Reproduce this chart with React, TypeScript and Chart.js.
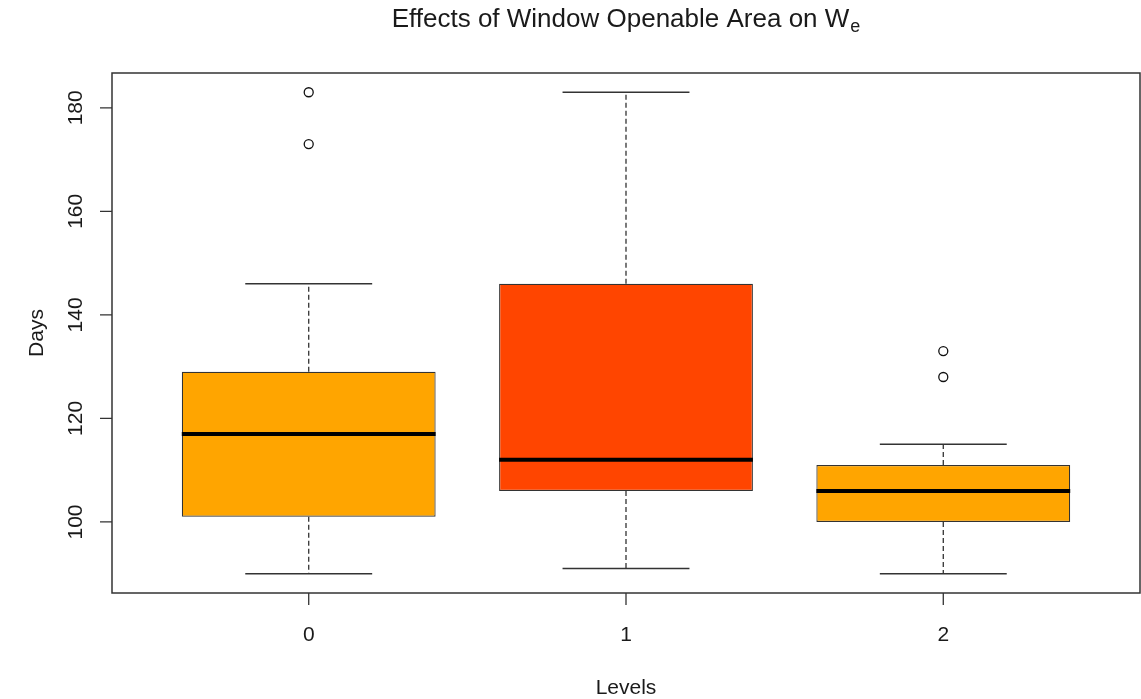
import React, { useEffect, useRef } from "react";
import { Chart, registerables } from "chart.js";

Chart.register(...registerables);

// ---- data ----
const LEVELS = [0, 1, 2];
const LEVEL_LABELS = ["0", "1", "2"];
const WHISKER_LOW = [90, 91, 90];
const Q1 = [101, 106, 100];
const MEDIAN = [117, 112, 106];
const Q3 = [129, 146, 111];
const WHISKER_HIGH = [146, 183, 115];
const OUTLIER_LEVEL = [0, 0, 2, 2];
const OUTLIER_VALUE = [173, 183, 128, 133];
const BOX_COLORS = ["#FFA500", "#FF4500", "#FFA500"];
const Y_TICKS = [100, 120, 140, 160, 180];
const Y_TICK_LABELS = ["100", "120", "140", "160", "180"];
const Y_MIN = 86.28;
const Y_MAX = 186.72;
const X_MIN = -0.62;
const X_MAX = 2.62;
const TITLE_MAIN = "Effects of Window Openable Area on W";
const TITLE_SUB = "e";
const X_TITLE = "Levels";
const Y_TITLE = "Days";

const FONT = '"Liberation Sans", Arial, sans-serif';
const TEXT_COLOR = "#1a1a1a";
const LINE_COLOR = "#333333";

const boxPlugin = {
  id: "boxExtras",
  beforeDatasetsDraw(chart: any) {
    const ctx = chart.ctx;
    const xs = chart.scales.x;
    const ys = chart.scales.y;
    ctx.save();
    LEVELS.forEach((lv, i) => {
      const cx = xs.getPixelForValue(lv);
      // dashed whiskers
      ctx.strokeStyle = LINE_COLOR;
      ctx.lineWidth = 1.3;
      ctx.setLineDash([5, 3]);
      ctx.beginPath();
      ctx.moveTo(cx, ys.getPixelForValue(Q3[i]));
      ctx.lineTo(cx, ys.getPixelForValue(WHISKER_HIGH[i]));
      ctx.moveTo(cx, ys.getPixelForValue(Q1[i]));
      ctx.lineTo(cx, ys.getPixelForValue(WHISKER_LOW[i]));
      ctx.stroke();
      // caps
      ctx.setLineDash([]);
      ctx.lineWidth = 1.5;
      ctx.beginPath();
      const l = xs.getPixelForValue(lv - 0.2);
      const r = xs.getPixelForValue(lv + 0.2);
      const yh = ys.getPixelForValue(WHISKER_HIGH[i]);
      const yl = ys.getPixelForValue(WHISKER_LOW[i]);
      ctx.moveTo(l, yh);
      ctx.lineTo(r, yh);
      ctx.moveTo(l, yl);
      ctx.lineTo(r, yl);
      ctx.stroke();
    });
    ctx.restore();
  },
  afterDatasetsDraw(chart: any) {
    const ctx = chart.ctx;
    const xs = chart.scales.x;
    const ys = chart.scales.y;
    ctx.save();
    ctx.strokeStyle = "#000000";
    ctx.lineWidth = 4;
    ctx.lineCap = "butt";
    LEVELS.forEach((lv, i) => {
      const y = ys.getPixelForValue(MEDIAN[i]);
      ctx.beginPath();
      ctx.moveTo(xs.getPixelForValue(lv - 0.4), y);
      ctx.lineTo(xs.getPixelForValue(lv + 0.4), y);
      ctx.stroke();
    });
    ctx.restore();
  },
  afterDraw(chart: any) {
    const ctx = chart.ctx;
    const a = chart.chartArea;
    const xs = chart.scales.x;
    const ys = chart.scales.y;
    ctx.save();
    // frame
    ctx.strokeStyle = LINE_COLOR;
    ctx.lineWidth = 1.5;
    ctx.strokeRect(a.left, a.top, a.right - a.left, a.bottom - a.top);
    // y ticks
    ctx.lineWidth = 1.3;
    ctx.beginPath();
    Y_TICKS.forEach((v) => {
      const y = ys.getPixelForValue(v);
      ctx.moveTo(a.left - 12, y);
      ctx.lineTo(a.left, y);
    });
    // x ticks
    LEVELS.forEach((lv) => {
      const x = xs.getPixelForValue(lv);
      ctx.moveTo(x, a.bottom);
      ctx.lineTo(x, a.bottom + 12);
    });
    ctx.stroke();
    ctx.fillStyle = TEXT_COLOR;
    ctx.font = `21px ${FONT}`;
    // y tick labels (rotated)
    ctx.textAlign = "center";
    ctx.textBaseline = "alphabetic";
    Y_TICKS.forEach((v, i) => {
      const y = ys.getPixelForValue(v);
      ctx.save();
      ctx.translate(a.left - 30, y);
      ctx.rotate(-Math.PI / 2);
      ctx.fillText(Y_TICK_LABELS[i], 0, 0);
      ctx.restore();
    });
    // x tick labels
    LEVELS.forEach((lv, i) => {
      ctx.fillText(LEVEL_LABELS[i], xs.getPixelForValue(lv), a.bottom + 48);
    });
    const cx = (a.left + a.right) / 2;
    const cy = (a.top + a.bottom) / 2;
    // axis titles
    ctx.fillText(X_TITLE, cx, a.bottom + 101);
    ctx.save();
    ctx.translate(a.left - 69, cy);
    ctx.rotate(-Math.PI / 2);
    ctx.fillText(Y_TITLE, 0, 0);
    ctx.restore();
    // main title with subscript
    ctx.font = `26px ${FONT}`;
    const wMain = ctx.measureText(TITLE_MAIN).width;
    ctx.font = `18px ${FONT}`;
    const wSub = ctx.measureText(TITLE_SUB).width;
    const start = cx - (wMain + wSub + 1) / 2;
    ctx.textAlign = "left";
    ctx.font = `26px ${FONT}`;
    ctx.fillText(TITLE_MAIN, start, a.top - 46);
    ctx.font = `18px ${FONT}`;
    ctx.fillText(TITLE_SUB, start + wMain + 1, a.top - 41);
    ctx.restore();
  },
};

export default function App() {
  const ref = useRef<HTMLCanvasElement | null>(null);
  useEffect(() => {
    if (!ref.current) return;
    const chart = new Chart(ref.current, {
      type: "bar",
      data: {
        datasets: [
          {
            type: "bar",
            label: "boxes",
            data: LEVELS.map((lv, i) => ({ x: lv, y: [Q1[i], Q3[i]] })) as any,
            backgroundColor: BOX_COLORS,
            borderColor: LINE_COLOR,
            borderWidth: 1.2,
            borderSkipped: false,
            barPercentage: 0.8,
            categoryPercentage: 1,
          } as any,
          {
            type: "scatter",
            label: "outliers",
            data: OUTLIER_LEVEL.map((lv, i) => ({ x: lv, y: OUTLIER_VALUE[i] })),
            pointStyle: "circle",
            pointRadius: 4.5,
            pointBorderWidth: 1.3,
            pointBorderColor: "#111111",
            pointBackgroundColor: "#ffffff",
          } as any,
        ],
      },
      options: {
        animation: false,
        responsive: false,
        devicePixelRatio: 1,
        layout: { autoPadding: false, padding: { left: 112, top: 73, right: 1, bottom: 106 } },
        plugins: {
          legend: { display: false },
          tooltip: { enabled: false },
          title: { display: false },
        },
        scales: {
          x: {
            type: "linear",
            display: false,
            offset: false,
            min: X_MIN,
            max: X_MAX,
            grid: { offset: false },
            ticks: { stepSize: 1, includeBounds: false },
          },
          y: {
            type: "linear",
            display: false,
            min: Y_MIN,
            max: Y_MAX,
            ticks: { stepSize: 20, includeBounds: false },
          },
        },
      },
      plugins: [boxPlugin],
    });
    return () => chart.destroy();
  }, []);
  return (
    <div style={{ position: "fixed", left: 0, top: 0, width: 1141, height: 699, background: "#ffffff" }}>
      <canvas ref={ref} width={1141} height={699} />
    </div>
  );
}
